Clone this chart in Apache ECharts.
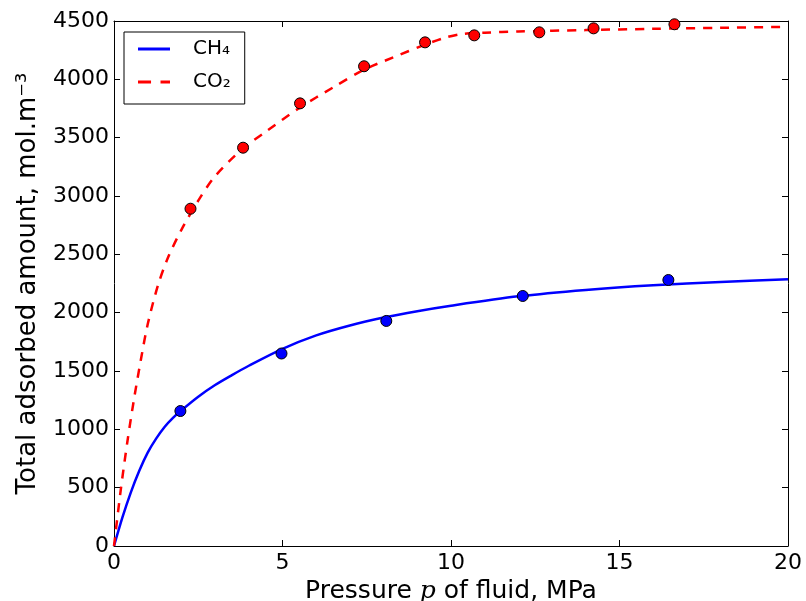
<!DOCTYPE html>
<html>
<head>
<meta charset="utf-8">
<script src="https://cdn.jsdelivr.net/npm/echarts@6/dist/echarts.min.js"></script>
<style>
    html, body { margin: 0; padding: 0; background: #fff; }
    #chart { width: 806px; height: 601px; }
</style>
</head>
<body>
<div id="chart"></div>
<script>
// 拟合曲线 (pressure MPa, amount mol/m3)
var ch4FitP = [0, 0.25, 0.5, 0.75, 1, 1.25, 1.5, 1.75, 2, 2.5, 3, 3.5, 4, 5, 6, 7, 8, 9, 10, 12, 14, 16, 18, 20];
var ch4FitN = [0, 245, 460, 645, 800, 920, 1020, 1098, 1163, 1280, 1380, 1465, 1545, 1690, 1805, 1890, 1958, 2013, 2060, 2140, 2195, 2235, 2263, 2286];
var co2FitP = [0, 0.2, 0.4, 0.6, 0.8, 1, 1.3, 1.6, 2, 2.5, 3, 3.8, 4.5, 5.5, 6.5, 7.4, 8.3, 9.2, 9.8, 10.3, 11, 12, 14, 16, 18, 20];
var co2FitN = [0, 480, 900, 1270, 1600, 1900, 2230, 2470, 2710, 2960, 3170, 3400, 3550, 3755, 3930, 4080, 4190, 4294, 4355, 4388, 4400, 4410, 4422, 4433, 4442, 4450];

// 实测点
var ch4P = [1.97, 4.97, 8.08, 12.13, 16.45];
var ch4N = [1157, 1650, 1929, 2143, 2280];
var co2P = [2.27, 3.83, 5.52, 7.42, 9.23, 10.69, 12.62, 14.23, 16.63];
var co2N = [2891, 3414, 3794, 4112, 4317, 4377, 4403, 4437, 4472];

// 刻度
var xTicks = [0, 5, 10, 15, 20];
var yTicks = [0, 500, 1000, 1500, 2000, 2500, 3000, 3500, 4000, 4500];

var legendNames = ['CH\u2084', 'CO\u2082'];

function pairs(xs, ys) {
    return xs.map(function (x, i) { return [x, ys[i]]; });
}

var font = 'DejaVu Sans';

function xAxis(pos, showLabel) {
    return {
        type: 'value',
        position: pos,
        min: xTicks[0],
        max: xTicks[xTicks.length - 1],
        interval: xTicks[1] - xTicks[0],
        axisLine: { show: true, onZero: false, lineStyle: { color: '#000', width: 1 } },
        axisTick: { show: true, inside: true, length: 6, lineStyle: { color: '#000' } },
        axisLabel: {
            show: showLabel, color: '#000', fontFamily: font, fontSize: 22, margin: 6,
            formatter: function (v) { return String(v); }
        },
        splitLine: { show: false },
        name: showLabel ? 'Pressure {i|p} of fluid, MPa' : '',
        nameLocation: 'middle',
        nameGap: 30,
        nameTextStyle: {
            color: '#000', fontFamily: font, fontSize: 25,
            rich: { i: { fontFamily: 'DejaVu Serif', fontStyle: 'italic', fontSize: 25, color: '#000' } }
        }
    };
}

function yAxis(pos, showLabel) {
    return {
        type: 'value',
        position: pos,
        min: yTicks[0],
        max: yTicks[yTicks.length - 1],
        interval: yTicks[1] - yTicks[0],
        axisLine: { show: true, onZero: false, lineStyle: { color: '#000', width: 1 } },
        axisTick: { show: true, inside: true, length: 6, lineStyle: { color: '#000' } },
        axisLabel: {
            show: showLabel, color: '#000', fontFamily: font, fontSize: 22, margin: 5,
            formatter: function (v) { return String(v); }
        },
        splitLine: { show: false },
        name: showLabel ? 'Total adsorbed amount, mol.m\u207B\u00B3' : '',
        nameLocation: 'middle',
        nameGap: 73,
        nameTextStyle: { color: '#000', fontFamily: font, fontSize: 26 }
    };
}

var myChart = echarts.init(document.getElementById('chart'), null, { renderer: 'canvas' });

var option = {
    animation: false,
    backgroundColor: '#fff',
    grid: { left: 114, right: 18, top: 21, bottom: 55, containLabel: false, outerBoundsMode: 'none' },
    xAxis: [xAxis('bottom', true), xAxis('top', false)],
    yAxis: [yAxis('left', true), yAxis('right', false)],
    legend: {
        data: [
            { name: legendNames[0], icon: 'path://M0,0H32V3H0Z' },
            { name: legendNames[1], icon: 'path://M0,0H11V3H0ZM19,0H27V3H19Z' }
        ],
        orient: 'vertical',
        left: 124,
        top: 32,
        padding: [6, 14, 11, 14],
        itemWidth: 32,
        itemHeight: 3,
        itemGap: 11,
        symbolKeepAspect: false,
        backgroundColor: '#fff',
        borderColor: '#000',
        borderWidth: 1,
        borderRadius: 0,
        textStyle: { color: '#000', fontFamily: font, fontSize: 20, lineHeight: 22, padding: [0, 0, 0, 18] }
    },
    series: [
        {
            name: legendNames[0],
            type: 'line',
            data: pairs(ch4FitP, ch4FitN),
            symbol: 'none',
            smooth: 0.3,
            lineStyle: { color: '#0000ff', width: 2.5 },
            itemStyle: { color: '#0000ff' },
            z: 2
        },
        {
            name: legendNames[1],
            type: 'line',
            data: pairs(co2FitP, co2FitN),
            symbol: 'none',
            smooth: 0.3,
            lineStyle: { color: '#ff0000', width: 2.5, type: [9, 8] },
            itemStyle: { color: '#ff0000' },
            z: 2
        },
        {
            name: 'CH4 data',
            type: 'scatter',
            data: pairs(ch4P, ch4N),
            symbol: 'circle',
            symbolSize: 11,
            itemStyle: { color: '#0000ff', borderColor: '#000', borderWidth: 1, opacity: 1 },
            z: 3
        },
        {
            name: 'CO2 data',
            type: 'scatter',
            data: pairs(co2P, co2N),
            symbol: 'circle',
            symbolSize: 11,
            itemStyle: { color: '#ff0000', borderColor: '#000', borderWidth: 1, opacity: 1 },
            z: 3
        }
    ]
};

myChart.setOption(option);
</script>
</body>
</html>
